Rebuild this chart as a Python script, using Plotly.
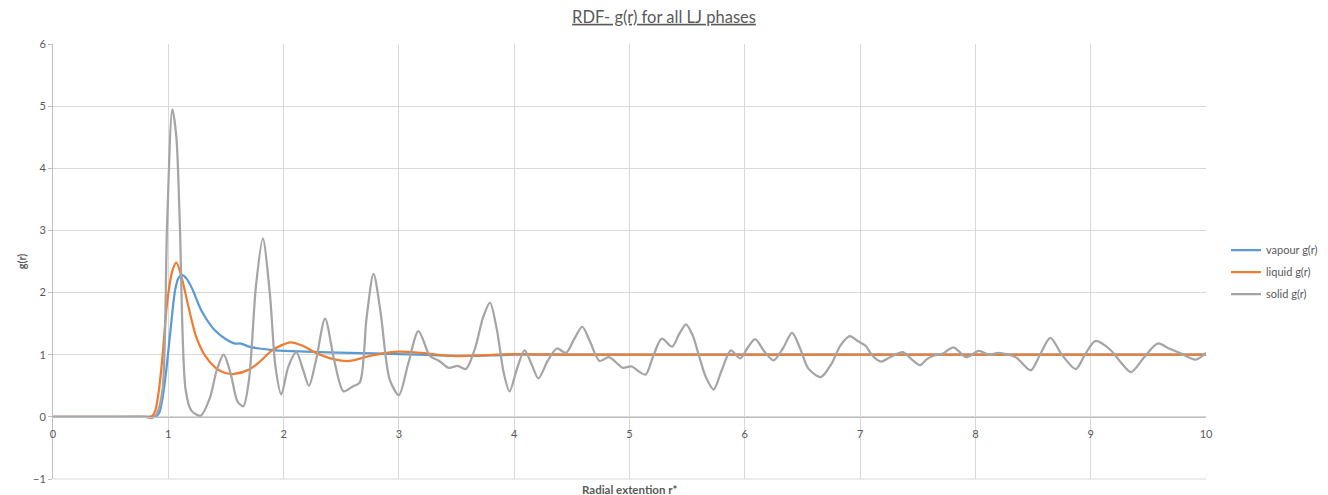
import plotly.graph_objects as go

# ---- data ----
solid_r = [0, 0.5, 0.80, 0.86, 0.90, 0.95, 0.99, 1.035, 1.07, 1.10, 1.15, 1.20, 1.28, 1.36, 1.42, 1.48,
           1.54, 1.60, 1.65, 1.70, 1.76, 1.82, 1.88, 1.93, 1.98, 2.04, 2.11, 2.17, 2.22, 2.28, 2.36,
           2.44, 2.52, 2.60, 2.66, 2.72, 2.78, 2.84, 2.92, 3.00, 3.08, 3.17, 3.27, 3.35, 3.43, 3.51,
           3.58, 3.66, 3.73, 3.79, 3.85, 3.91, 3.96, 4.02, 4.09, 4.15, 4.21, 4.29, 4.37, 4.45, 4.52,
           4.59, 4.66, 4.74, 4.82, 4.90, 4.94, 5.02, 5.08, 5.14, 5.21, 5.28, 5.37, 5.43, 5.49, 5.55,
           5.60, 5.66, 5.73, 5.80, 5.88, 5.96, 6.02, 6.09, 6.17, 6.25, 6.33, 6.41, 6.48, 6.55, 6.66,
           6.75, 6.83, 6.91, 6.98, 7.05, 7.10, 7.18, 7.26, 7.37, 7.45, 7.52, 7.58, 7.63, 7.72, 7.81,
           7.92, 8.03, 8.12, 8.20, 8.35, 8.48, 8.56, 8.65, 8.75, 8.87, 8.95, 9.04, 9.17, 9.26, 9.35,
           9.46, 9.58, 9.68, 9.77, 9.91, 10.0]
solid_g = [0, 0, 0, -0.02, 0.05, 0.44, 3.13, 4.95, 4.5, 3.1, 0.44, 0.1, 0.02, 0.3, 0.75, 1.0,
           0.7, 0.25, 0.17, 0.6, 2.1, 2.87, 2.0, 0.8, 0.36, 0.8, 1.04, 0.75, 0.50, 0.9, 1.58,
           0.9, 0.41, 0.49, 0.55, 1.6, 2.30, 1.7, 0.6, 0.35, 0.85, 1.38, 0.98, 0.90, 0.79, 0.82,
           0.77, 1.1, 1.6, 1.84, 1.4, 0.7, 0.41, 0.75, 1.07, 0.85, 0.62, 0.9, 1.10, 1.03, 1.25,
           1.45, 1.2, 0.90, 0.96, 0.85, 0.79, 0.81, 0.73, 0.68, 1.0, 1.26, 1.13, 1.33, 1.49, 1.3,
           1.0, 0.65, 0.44, 0.75, 1.07, 0.94, 1.1, 1.25, 1.05, 0.91, 1.1, 1.35, 1.1, 0.78, 0.64,
           0.85, 1.15, 1.30, 1.22, 1.14, 1.0, 0.89, 0.96, 1.04, 0.92, 0.83, 0.93, 0.98, 1.02, 1.12,
           0.96, 1.06, 1.0, 1.03, 0.96, 0.75, 1.0, 1.27, 1.0, 0.77, 1.0, 1.22, 1.08, 0.88, 0.72,
           0.95, 1.18, 1.1, 1.03, 0.92, 1.03]

vapour_r = [0, 0.5, 0.8, 0.86, 0.89, 0.92, 0.95, 0.98, 1.02, 1.06, 1.09, 1.12, 1.16, 1.21, 1.29, 1.41, 1.50,
            1.58, 1.63, 1.70, 1.79, 1.93, 2.19, 2.57, 3.0, 3.35, 3.6, 4.0, 5.0, 6.0, 7.0, 8.0, 9.0, 10.0]
vapour_g = [0, 0, 0, 0.0, 0.01, 0.06, 0.3, 0.71, 1.41, 2.05, 2.24, 2.28, 2.22, 2.05, 1.70, 1.38, 1.25,
            1.18, 1.18, 1.13, 1.10, 1.07, 1.05, 1.03, 1.01, 0.99, 0.98, 1.0, 1.0, 1.0, 1.0, 1.0, 1.0, 1.0]

liquid_r = [0, 0.5, 0.8, 0.84, 0.865, 0.89, 0.92, 0.95, 0.99, 1.035, 1.07, 1.12, 1.18, 1.24, 1.32, 1.41,
            1.49, 1.57, 1.70, 1.79, 1.90, 2.06, 2.17, 2.28, 2.45, 2.57, 2.77, 3.0, 3.24, 3.46, 3.7,
            4.0, 4.5, 5.0, 6.0, 7.0, 8.0, 9.0, 10.0]
liquid_g = [0, 0, 0, 0.0, 0.02, 0.12, 0.45, 0.98, 1.84, 2.35, 2.48, 2.21, 1.73, 1.30, 0.98, 0.79,
            0.71, 0.69, 0.76, 0.88, 1.07, 1.20, 1.14, 1.03, 0.92, 0.90, 0.99, 1.05, 1.02, 0.98, 0.99,
            1.01, 1.0, 1.0, 1.0, 1.0, 1.0, 1.0, 1.0]

series_names = ["vapour g(r)", "liquid g(r)", "solid g(r)"]
series_colors = ["#5B9BD5", "#ED7D31", "#A5A5A5"]

FONT = "Lato, Carlito, sans-serif"
TXT = "#595959"
GRID = "#D9D9D9"

fig = go.Figure()
for name, color, r, g in zip(series_names, series_colors,
                             [vapour_r, liquid_r, solid_r], [vapour_g, liquid_g, solid_g]):
    fig.add_trace(go.Scatter(x=r, y=g, mode="lines", name=name, legendgroup=name,
                             line=dict(color=color, width=2.25, shape="spline", smoothing=0.8)))

fig.update_layout(
    width=1328, height=495,
    margin=dict(l=53, r=122, t=44, b=16, autoexpand=False),
    paper_bgcolor="white", plot_bgcolor="white",
    font=dict(family=FONT, size=11, color=TXT),
    title=dict(text="<u>RDF- g(r) for all LJ phases</u>", x=0.5, xanchor="center",
               y=1 - 17 / 495, yanchor="middle", font=dict(family=FONT, size=16.5, color=TXT)),
    showlegend=True,
    legend=dict(x=(1226 - 53) / 1153, xanchor="left", y=(479 - 272) / 435, yanchor="middle",
                font=dict(family=FONT, size=11, color=TXT), tracegroupgap=3,
                bgcolor="rgba(0,0,0,0)"),
    xaxis=dict(range=[0, 10], dtick=1, tick0=0, showgrid=True, gridcolor=GRID, gridwidth=1,
               zeroline=False, showline=True, linecolor="#BFBFBF", linewidth=1, automargin=False,
               anchor="free", position=1 / 7, ticks="", ticklabelstandoff=7,
               tickfont=dict(family=FONT, size=11, color=TXT)),
    yaxis=dict(range=[-1, 6], dtick=1, tick0=0, showgrid=True, gridcolor=GRID, gridwidth=1,
               zeroline=False, showline=True, linecolor="#BFBFBF", linewidth=1, automargin=False,
               ticks="outside", ticklen=4, tickcolor="#BFBFBF",
               tickfont=dict(family=FONT, size=11, color=TXT),
               title=dict(text="<b>g(r)</b>", font=dict(family=FONT, size=11, color=TXT), standoff=4)),
    shapes=[dict(type="line", xref="paper", yref="paper", x0=0, x1=1, y0=0, y1=0,
                 line=dict(color=GRID, width=1), layer="below")],
    annotations=[dict(text="<b>Radial extention r*</b>", xref="paper", yref="paper",
                      x=0.5, y=-(490 - 479) / 435, xanchor="center", yanchor="middle",
                      showarrow=False, font=dict(family=FONT, size=11.5, color=TXT))],
)

fig.write_html("out.html")
